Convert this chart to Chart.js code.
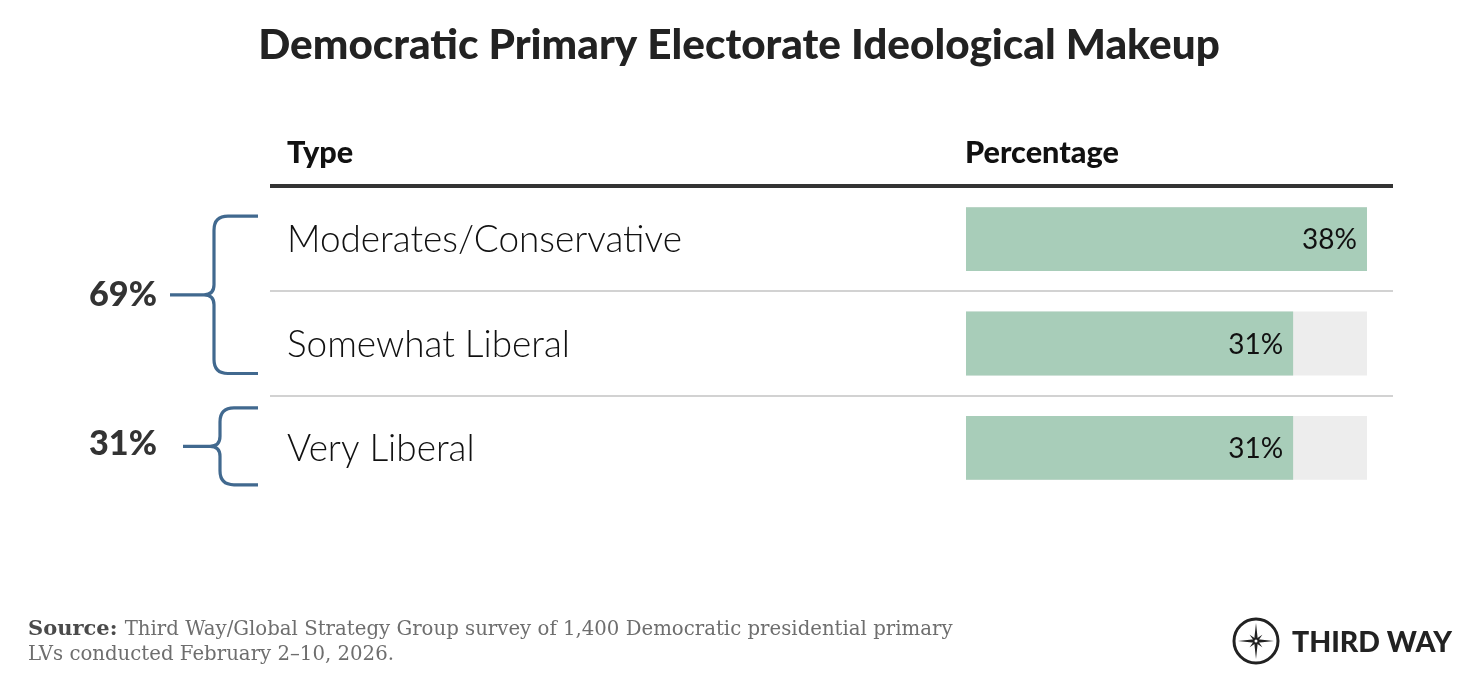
<!DOCTYPE html>
<html><head><meta charset="utf-8">
<script src="https://cdn.jsdelivr.net/npm/chart.js@4.4.0/dist/chart.umd.min.js"></script>
<style>html,body{margin:0;padding:0;background:#fff;overflow:hidden}#wrap{width:1480px;height:688px;position:relative}canvas{display:block}</style>
</head><body><div id="wrap"><canvas id="c" width="1480" height="688"></canvas></div>
<script>
// ---- data ----
const title = "Democratic Primary Electorate Ideological Makeup";
const columnHeaders = ["Type", "Percentage"];
const categories = ["Moderates/Conservative", "Somewhat Liberal", "Very Liberal"];
const percentages = [38, 31, 31];
const trackValues = [38, 38, 38];
const groupLabels = ["69%", "31%"];
const groupRows = [[0, 1], [2, 2]];
const sourceLabel = "Source:";
const sourceLines = ["Third Way/Global Strategy Group survey of 1,400 Democratic presidential primary", "LVs conducted February 2\u201310, 2026."];
const logoText = "THIRD WAY";
const scaleMax = 38;

// ---- styles ----
const SANS = "Lato, 'Noto Sans', sans-serif";
const SERIF = "'DejaVu Serif', 'Liberation Serif', serif";
const GREEN = "#a8cdb9", TRACK = "#ededed", BLUE = "#41698f", INK = "#222";

function fit(ctx, text, weight, family, base, target) {
  ctx.font = weight + " " + base + "px " + family;
  if (!target) return base;
  const w = ctx.measureText(text).width;
  let s = base * target / w;
  s = Math.max(base * 0.85, Math.min(base * 1.15, s));
  ctx.font = weight + " " + s + "px " + family;
  return s;
}

function bracket(ctx, top, bottom, xv, xtip, xr) {
  const mid = (top + bottom) / 2, r = 14, m = 10;
  ctx.beginPath();
  ctx.moveTo(xr, top);
  ctx.lineTo(xv + r, top);
  ctx.quadraticCurveTo(xv, top, xv, top + r);
  ctx.lineTo(xv, mid - m);
  ctx.quadraticCurveTo(xv, mid, xv - m, mid);
  ctx.lineTo(xtip, mid);
  ctx.moveTo(xv - m, mid);
  ctx.quadraticCurveTo(xv, mid, xv, mid + m);
  ctx.lineTo(xv, bottom - r);
  ctx.quadraticCurveTo(xv, bottom, xv + r, bottom);
  ctx.lineTo(xr, bottom);
  ctx.stroke();
}

const decor = {
  id: "decor",
  afterDraw(chart) {
    const ctx = chart.ctx;
    const y = chart.scales.y;
    const rowY = i => y.getPixelForValue(i);
    ctx.save();
    ctx.textBaseline = "alphabetic";

    // title
    ctx.fillStyle = INK;
    ctx.textAlign = "center";
    fit(ctx, title, "900", SANS, 37, 962);
    ctx.fillText(title, 739, 59);

    // headers
    ctx.textAlign = "left";
    ctx.fillStyle = "#111";
    fit(ctx, columnHeaders[1], "900", SANS, 28, 154);
    ctx.fillText(columnHeaders[0], 287, 163);
    ctx.fillText(columnHeaders[1], 965, 163);

    // header rule
    ctx.fillStyle = "#333";
    ctx.fillRect(270, 184, 1123, 4);

    // separators
    ctx.fillStyle = "#d2d2d2";
    for (let i = 0; i < categories.length - 1; i++) {
      const sy = (rowY(i) + rowY(i + 1)) / 2;
      ctx.fillRect(270, Math.round(sy) - 1, 1123, 2);
    }

    // row labels
    ctx.fillStyle = "#111";
    fit(ctx, categories[0], "300", SANS, 35, 395);
    categories.forEach((c, i) => ctx.fillText(c, 287, rowY(i) + 13));

    // value labels
    const meta = chart.getDatasetMeta(0);
    ctx.textAlign = "right";
    ctx.fillStyle = "#111";
    ctx.font = "400 28px " + SANS;
    meta.data.forEach((bar, i) => {
      ctx.fillText(percentages[i] + "%", bar.x - 10, bar.y + 10);
    });

    // brackets
    ctx.strokeStyle = BLUE;
    ctx.lineWidth = 3.2;
    const b0 = [rowY(groupRows[0][0]) - 23, rowY(groupRows[0][1]) + 30];
    const b1 = [rowY(groupRows[1][0]) - 40, rowY(groupRows[1][1]) + 37];
    bracket(ctx, b0[0], b0[1], 214, 170, 258);
    bracket(ctx, b1[0], b1[1], 220, 183, 258);
    ctx.fillStyle = "#333";
    ctx.textAlign = "right";
    fit(ctx, groupLabels[0], "900", SANS, 31, 68);
    ctx.fillText(groupLabels[0], 157, (b0[0] + b0[1]) / 2 + 11);
    ctx.fillText(groupLabels[1], 157, (b1[0] + b1[1]) / 2 + 9);

    // footer
    ctx.textAlign = "left";
    ctx.font = "600 21px " + SERIF;
    const srcW = ctx.measureText(sourceLabel + " ").width;
    ctx.fillStyle = "#4a4a4a";
    ctx.fillText(sourceLabel, 28, 635);
    fit(ctx, sourceLines[0], "300", SERIF, 21, 925 - srcW);
    ctx.fillStyle = "#6e6e6e";
    ctx.fillText(sourceLines[0], 28 + srcW, 635);
    ctx.fillText(sourceLines[1], 28, 660);

    // logo
    const cx = 1256, cy = 641;
    ctx.strokeStyle = INK;
    ctx.lineWidth = 3;
    ctx.beginPath(); ctx.arc(cx, cy, 22, 0, Math.PI * 2); ctx.stroke();
    ctx.fillStyle = INK;
    function star(len, inner, rot) {
      ctx.beginPath();
      for (let k = 0; k < 8; k++) {
        const a = rot + k * Math.PI / 4 - Math.PI / 2;
        const rr = k % 2 === 0 ? len : inner;
        const px = cx + rr * Math.cos(a), py = cy + rr * Math.sin(a);
        k === 0 ? ctx.moveTo(px, py) : ctx.lineTo(px, py);
      }
      ctx.closePath(); ctx.fill();
    }
    star(18, 2.5, 0);
    star(9, 2, Math.PI / 4);
    ctx.fillStyle = "#fff";
    ctx.beginPath(); ctx.arc(cx, cy, 1.5, 0, Math.PI * 2); ctx.fill();
    ctx.fillStyle = INK;
    fit(ctx, logoText, "900", SANS, 27, 160);
    ctx.fillText(logoText, 1292, 652);

    ctx.restore();
  }
};

new Chart(document.getElementById("c"), {
  type: "bar",
  data: {
    labels: categories,
    datasets: [
      { data: percentages, backgroundColor: GREEN, grouped: false, order: 0, barPercentage: 0.612, categoryPercentage: 1 },
      { data: trackValues, backgroundColor: TRACK, grouped: false, order: 1, barPercentage: 0.612, categoryPercentage: 1 }
    ]
  },
  options: {
    indexAxis: "y",
    responsive: false,
    animation: false,
    layout: { padding: { left: 966, right: 113, top: 187, bottom: 188 } },
    scales: {
      x: { display: false, min: 0, max: scaleMax },
      y: { display: false }
    },
    plugins: { legend: { display: false }, tooltip: { enabled: false } }
  },
  plugins: [decor]
});
</script>
</body></html>
